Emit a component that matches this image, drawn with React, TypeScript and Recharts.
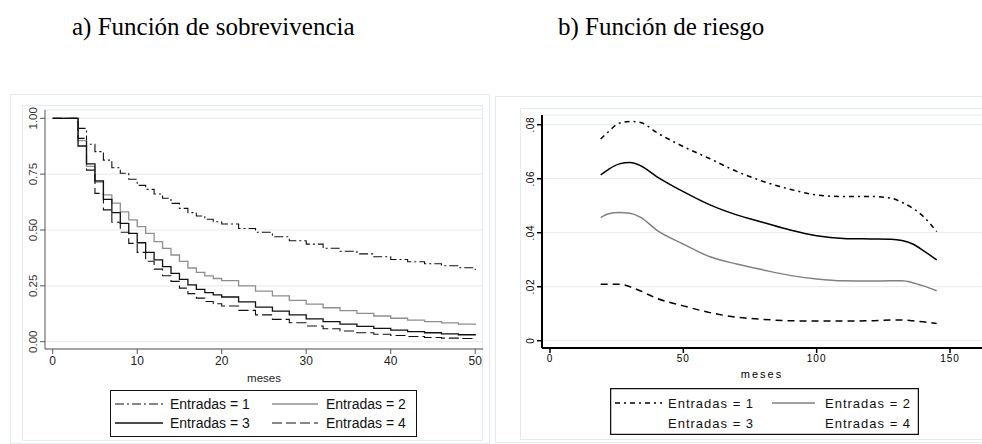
import React from 'react';
import { LineChart, Line, XAxis, YAxis, CartesianGrid, Label } from 'recharts';

// a) survival, months
const meses = [0, 3, 4, 5, 6, 7, 8, 9, 10, 11, 12, 13, 14, 15, 16, 17, 18, 19, 20, 22, 24, 26, 28, 30, 32, 34, 36, 38, 40, 42, 44, 46, 48, 50];
const sobrev1 = [1, 0.955, 0.884, 0.851, 0.813, 0.779, 0.754, 0.727, 0.7, 0.682, 0.661, 0.642, 0.619, 0.597, 0.578, 0.563, 0.548, 0.537, 0.527, 0.507, 0.49, 0.47, 0.452, 0.437, 0.418, 0.405, 0.393, 0.38, 0.368, 0.358, 0.349, 0.34, 0.331, 0.321];
const sobrev2 = [1, 0.9, 0.785, 0.715, 0.657, 0.62, 0.581, 0.545, 0.515, 0.485, 0.448, 0.418, 0.388, 0.36, 0.33, 0.31, 0.295, 0.283, 0.273, 0.25, 0.226, 0.205, 0.185, 0.168, 0.152, 0.139, 0.127, 0.115, 0.105, 0.097, 0.09, 0.084, 0.079, 0.075];
const sobrev3 = [1, 0.876, 0.796, 0.72, 0.637, 0.578, 0.53, 0.485, 0.443, 0.4, 0.366, 0.336, 0.306, 0.279, 0.254, 0.234, 0.22, 0.21, 0.2, 0.178, 0.155, 0.137, 0.12, 0.102, 0.09, 0.079, 0.069, 0.06, 0.052, 0.045, 0.04, 0.035, 0.031, 0.028];
const sobrev4 = [1, 0.91, 0.768, 0.664, 0.59, 0.535, 0.49, 0.44, 0.4, 0.36, 0.325, 0.295, 0.27, 0.24, 0.215, 0.195, 0.18, 0.17, 0.16, 0.14, 0.12, 0.1, 0.085, 0.07, 0.058, 0.048, 0.04, 0.033, 0.028, 0.023, 0.019, 0.016, 0.014, 0.013];
const sobrevTicksY = [0, 0.25, 0.5, 0.75, 1];
const sobrevTicksX = [0, 10, 20, 30, 40, 50];

// b) hazard, months
const mesesRiesgo = [19, 22, 26, 30, 34, 40, 50, 60, 70, 80, 90, 100, 110, 120, 128, 132, 136, 140, 145];
const riesgo1 = [0.0747, 0.0775, 0.0806, 0.0812, 0.0808, 0.0771, 0.0719, 0.0674, 0.0627, 0.059, 0.0561, 0.054, 0.0534, 0.0534, 0.0528, 0.0512, 0.0491, 0.046, 0.0404];
const riesgo2 = [0.0456, 0.047, 0.0475, 0.0472, 0.0457, 0.041, 0.0358, 0.0311, 0.0284, 0.0262, 0.0242, 0.0229, 0.0222, 0.0221, 0.0222, 0.0222, 0.0215, 0.0203, 0.0185];
const riesgo3 = [0.0614, 0.0635, 0.0655, 0.066, 0.0648, 0.0608, 0.0552, 0.0503, 0.0466, 0.0438, 0.041, 0.0389, 0.0379, 0.0377, 0.0376, 0.0371, 0.0358, 0.0334, 0.0299];
const riesgo4 = [0.0209, 0.0209, 0.0209, 0.02, 0.0184, 0.0157, 0.0129, 0.0104, 0.0087, 0.0079, 0.0074, 0.0073, 0.0073, 0.0074, 0.0077, 0.0077, 0.0074, 0.007, 0.0064];
const riesgoTicksY = [0, 0.02, 0.04, 0.06, 0.08];
const riesgoTickLabels = ['0', '.02', '.04', '.06', '.08'];
const riesgoTicksX = [0, 50, 100, 150];

const nombres = ['Entradas = 1', 'Entradas = 2', 'Entradas = 3', 'Entradas = 4'];

const survData = meses.map((m, i) => ({ m, e1: sobrev1[i], e2: sobrev2[i], e3: sobrev3[i], e4: sobrev4[i] }));
const riskData = mesesRiesgo.map((m, i) => ({ m, e1: riesgo1[i], e2: riesgo2[i], e3: riesgo3[i], e4: riesgo4[i] }));

const keys = ['e1', 'e2', 'e3', 'e4'];
const survStyles = [
    { stroke: '#111', dash: '9 3 2 3', w: 1.1 },
    { stroke: '#8e8e8e', dash: undefined, w: 1.3 },
    { stroke: '#111', dash: undefined, w: 1.3 },
    { stroke: '#111', dash: '10 4', w: 1.1 },
];
const riskStyles = [
    { stroke: '#000', dash: '5 4 2 4', w: 1.5, legend: true },
    { stroke: '#808080', dash: undefined, w: 1.5, legend: true },
    { stroke: '#000', dash: undefined, w: 1.5, legend: false },
    { stroke: '#000', dash: '7 5', w: 1.5, legend: false },
];

const sans = 'Arial, "Liberation Sans", sans-serif';
const serif = '"Liberation Serif", "Times New Roman", serif';
const frame = '#e3ebee';

function SurvYTick(props: any) {
    const { x, y, payload } = props;
    const tx = x - 1;
    return (
        <text x={tx} y={y} transform={`rotate(-90, ${tx}, ${y})`} textAnchor="middle" fontSize={11.5} fontFamily={sans} fill="#333">
            {payload.value.toFixed(2)}
        </text>
    );
}

function RiskYTick(props: any) {
    const { x, y, payload } = props;
    const tx = x - 1;
    const idx = riesgoTicksY.indexOf(payload.value);
    return (
        <text x={tx} y={y} transform={`rotate(-90, ${tx}, ${y})`} textAnchor="middle" fontSize={10} fontFamily={sans} fill="#000" letterSpacing={0.5}>
            {riesgoTickLabels[idx]}
        </text>
    );
}

function LegendBox(props: any) {
    const { left, top, width, height, rows, cols, styles, font, border, spacing } = props;
    return (
        <svg style={{ position: 'absolute', left, top }} width={width} height={height}>
            <rect x={0.5} y={0.5} width={width - 1} height={height - 1} fill="#fff" stroke="#111" strokeWidth={border} />
            {nombres.map((n, i) => {
                const r = Math.floor(i / 2);
                const c = i % 2;
                const cy = rows[r];
                const col = cols[c];
                const s = styles[i];
                return (
                    <g key={n}>
                        {s.legend !== false && (
                            <line x1={col.l1} x2={col.l2} y1={cy} y2={cy} stroke={s.stroke} strokeWidth={s.w} strokeDasharray={s.dash} />
                        )}
                        <text x={col.t} y={cy} dominantBaseline="central" fontSize={font} fontFamily={sans} fill="#111" letterSpacing={spacing}>
                            {n}
                        </text>
                    </g>
                );
            })}
        </svg>
    );
}

export default function App() {
    return (
        <div style={{ position: 'absolute', left: 0, top: 0, width: 982, height: 444, overflow: 'hidden', background: '#fff' }}>
            <div style={{ position: 'absolute', left: 72, top: 12, fontFamily: serif, fontSize: 25, lineHeight: '30px', whiteSpace: 'nowrap' }}>
                a) Función de sobrevivencia
            </div>
            <div style={{ position: 'absolute', left: 558, top: 12, fontFamily: serif, fontSize: 25, lineHeight: '30px', whiteSpace: 'nowrap' }}>
                b) Función de riesgo
            </div>

            {/* frames */}
            <div style={{ position: 'absolute', left: 10, top: 94, width: 478, height: 348, border: `1px solid ${frame}` }} />
            <div style={{ position: 'absolute', left: 22, top: 105, width: 459, height: 334, border: `1px solid ${frame}` }} />
            <div style={{ position: 'absolute', left: 495, top: 96, width: 500, height: 345, border: `1px solid ${frame}` }} />
            <div style={{ position: 'absolute', left: 520, top: 108, width: 480, height: 330, border: `1px solid ${frame}` }} />

            <div style={{ position: 'absolute', left: 0, top: 0 }}>
                <LineChart width={490} height={444} data={survData} margin={{ top: 110, right: 7, left: 0, bottom: 65 }}>
                    <CartesianGrid vertical={false} stroke={frame} strokeWidth={1} />
                    <XAxis
                        dataKey="m"
                        type="number"
                        domain={[-0.911, 50.92]}
                        allowDataOverflow
                        ticks={sobrevTicksX}
                        height={30}
                        tickSize={5}
                        axisLine={{ stroke: '#555' }}
                        tickLine={{ stroke: '#555' }}
                        tick={{ fontSize: 12, fontFamily: sans, fill: '#222' }}
                    >
                        <Label value="meses" position="insideBottom" offset={-3} style={{ fontSize: 11.5, fontFamily: sans, fill: '#222' }} />
                    </XAxis>
                    <YAxis
                        type="number"
                        domain={[-0.0327, 1.0372]}
                        allowDataOverflow
                        ticks={sobrevTicksY}
                        width={45}
                        tickSize={5}
                        axisLine={{ stroke: '#555' }}
                        tickLine={{ stroke: '#555' }}
                        tick={<SurvYTick />}
                    />
                    {keys.map((k, i) => (
                        <Line
                            key={k}
                            type="stepAfter"
                            dataKey={k}
                            stroke={survStyles[i].stroke}
                            strokeWidth={survStyles[i].w}
                            strokeDasharray={survStyles[i].dash}
                            dot={false}
                            isAnimationActive={false}
                        />
                    ))}
                </LineChart>
            </div>

            <div style={{ position: 'absolute', left: 490, top: 0 }}>
                <LineChart width={492} height={444} data={riskData} margin={{ top: 115, right: 0, left: 0, bottom: 66 }}>
                    <CartesianGrid vertical={false} stroke={frame} strokeWidth={1} />
                    <XAxis
                        dataKey="m"
                        type="number"
                        domain={[-3, 162]}
                        allowDataOverflow
                        ticks={riesgoTicksX}
                        height={30}
                        tickSize={5}
                        axisLine={{ stroke: '#000', strokeWidth: 2 }}
                        tickLine={{ stroke: '#000', strokeWidth: 1.5 }}
                        tick={{ fontSize: 10, fontFamily: sans, fill: '#000', letterSpacing: 1 }}
                    >
                        <Label value="meses" position="insideBottom" offset={0} style={{ fontSize: 11, fontFamily: sans, fill: '#000', letterSpacing: 2 }} />
                    </XAxis>
                    <YAxis
                        type="number"
                        domain={[-0.0027, 0.0836]}
                        allowDataOverflow
                        ticks={riesgoTicksY}
                        width={52}
                        tickSize={5}
                        axisLine={{ stroke: '#000', strokeWidth: 2 }}
                        tickLine={{ stroke: '#000', strokeWidth: 1.5 }}
                        tick={<RiskYTick />}
                    />
                    {keys.map((k, i) => (
                        <Line
                            key={k}
                            type="monotone"
                            dataKey={k}
                            stroke={riskStyles[i].stroke}
                            strokeWidth={riskStyles[i].w}
                            strokeDasharray={riskStyles[i].dash}
                            dot={false}
                            isAnimationActive={false}
                        />
                    ))}
                </LineChart>
            </div>

            <LegendBox
                left={110}
                top={390}
                width={307}
                height={47}
                rows={[14, 33]}
                cols={[{ l1: 5, l2: 53, t: 60 }, { l1: 162, l2: 208, t: 216 }]}
                styles={survStyles}
                font={14}
                border={1}
                spacing={0}
            />
            <LegendBox
                left={610}
                top={388}
                width={309}
                height={47}
                rows={[15, 35]}
                cols={[{ l1: 5, l2: 52, t: 58 }, { l1: 162, l2: 205, t: 215 }]}
                styles={riskStyles}
                font={13}
                border={1.5}
                spacing={1}
            />
        </div>
    );
}
